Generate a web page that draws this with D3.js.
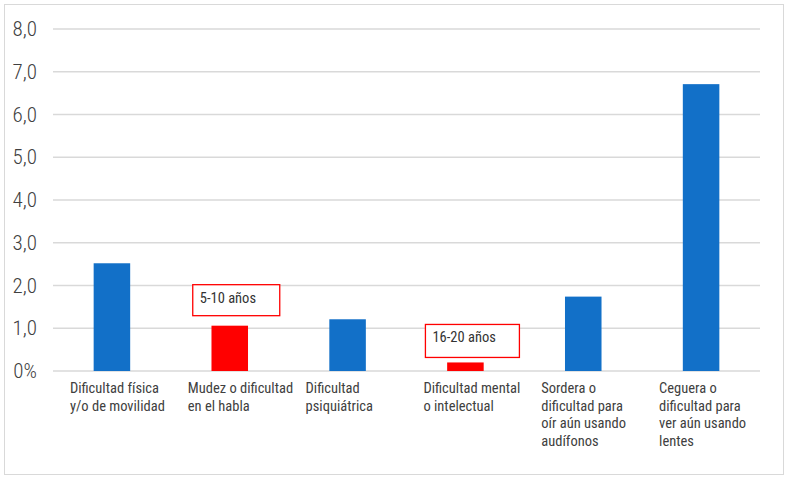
<!DOCTYPE html>
<html>
<head>
<meta charset="utf-8">
<script src="https://cdn.jsdelivr.net/npm/d3@7"></script>
<style>
  body { margin: 0; background: #fff; }
  svg text { font-family: "Liberation Sans Narrow", "Arial Narrow", "Roboto Condensed", Roboto, sans-serif; }
</style>
</head>
<body>
<div id="chart"></div>
<script>
// categorias y valores (%)
const categories = [
    ["Dificultad física", "y/o de movilidad"],
    ["Mudez o dificultad", "en el habla"],
    ["Dificultad", "psiquiátrica"],
    ["Dificultad mental", "o intelectual"],
    ["Sordera o", "dificultad para", "oír aún usando", "audífonos"],
    ["Ceguera o", "dificultad para", "ver aún usando", "lentes"]
]
const values = [2.52, 1.06, 1.21, 0.2, 1.74, 6.71]
const highlighted = [false, true, false, true, false, false]
const yTicks = [0, 1, 2, 3, 4, 5, 6, 7, 8]
const yTickLabels = ["0%", "1,0", "2,0", "3,0", "4,0", "5,0", "6,0", "7,0", "8,0"]
const annotations = [
    { cat: 1, text: "5-10 años" },
    { cat: 3, text: "16-20 años" }
]

const width = 788, height = 478
const marginL = 53, marginR = 28, marginT = 29, marginB = 107

const svg = d3.select("#chart")
    .append("svg")
    .attr("width", width)
    .attr("height", height)

// marco exterior
svg.append("rect")
    .attr("x", 4.5).attr("y", 4.5)
    .attr("width", 779).attr("height", 470)
    .attr("fill", "none")
    .attr("stroke", "#d9d9d9")
    .attr("stroke-width", 1)

const x = d3.scaleBand()
    .domain(d3.range(categories.length))
    .range([marginL, width - marginR])
    .paddingInner(0.69)
    .paddingOuter(0.345)

const y = d3.scaleLinear()
    .domain([0, 8])
    .range([height - marginB, marginT])

// lineas de grilla
svg.append("g")
    .selectAll("line")
    .data(yTicks)
    .join("line")
    .attr("x1", marginL)
    .attr("x2", width - marginR)
    .attr("y1", d => y(d))
    .attr("y2", d => y(d))
    .attr("stroke", "#d9d9d9")
    .attr("stroke-width", 1.5)

// etiquetas eje y
svg.append("g")
    .selectAll("text")
    .data(yTicks)
    .join("text")
    .attr("x", 37)
    .attr("y", d => y(d) + 7)
    .attr("text-anchor", "end")
    .attr("font-size", 21)
    .attr("font-weight", 300)
    .attr("fill", "#404040")
    .text((d, i) => yTickLabels[i])

// barras
svg.append("g")
    .selectAll("rect")
    .data(values)
    .join("rect")
    .attr("x", (d, i) => x(i))
    .attr("width", x.bandwidth())
    .attr("y", d => y(d))
    .attr("height", d => y(0) - y(d))
    .attr("fill", (d, i) => highlighted[i] ? "#ff0000" : "#1270c8")

// etiquetas de categorias
const catG = svg.append("g")
    .selectAll("text")
    .data(categories)
    .join("text")
    .attr("x", (d, i) => x(i) + x.bandwidth() / 2 - 42)
    .attr("y", y(0) + 22)
    .attr("font-size", 14.5)
    .attr("fill", "#404040")
catG.selectAll("tspan")
    .data(d => d)
    .join("tspan")
    .attr("x", function () { return d3.select(this.parentNode).attr("x") })
    .attr("dy", (d, i) => i === 0 ? 0 : 17.5)
    .text(d => d)

// cuadros de anotacion
const boxOffsets = [
    { dx: -37, dy: -10, w: 87, h: 31 },
    { dx: -40, dy: -5, w: 94, h: 33 }
]
const ann = svg.append("g")
    .selectAll("g")
    .data(annotations)
    .join("g")
    .attr("transform", (d, i) => {
        const o = boxOffsets[i]
        const cx = x(d.cat) + x.bandwidth() / 2
        return `translate(${cx + o.dx},${y(values[d.cat]) + o.dy - o.h})`
    })
ann.append("rect")
    .attr("width", (d, i) => boxOffsets[i].w)
    .attr("height", (d, i) => boxOffsets[i].h)
    .attr("fill", "#fff")
    .attr("stroke", "#ff0000")
    .attr("stroke-width", 1.3)
ann.append("text")
    .attr("x", 7)
    .attr("y", 18)
    .attr("font-size", 14.5)
    .attr("fill", "#333")
    .text(d => d.text)
</script>
</body>
</html>
